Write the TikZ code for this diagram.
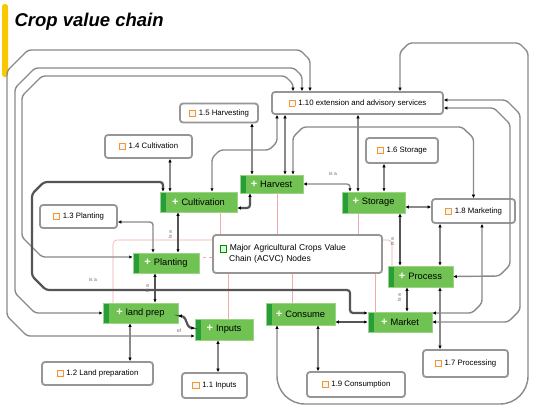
\documentclass[tikz,border=0pt]{standalone}
\usepackage{fontspec}
\setmainfont{Liberation Sans}
\usetikzlibrary{arrows.meta}
\definecolor{nodegreen}{RGB}{112,194,82}
\definecolor{stripgreen}{RGB}{40,158,58}
\definecolor{boxgray}{RGB}{150,150,150}
\definecolor{linkgray}{RGB}{138,138,138}
\definecolor{linkdark}{RGB}{85,85,85}
\definecolor{pinkline}{RGB}{242,170,170}
\definecolor{titlebar}{RGB}{250,200,0}
\setlength{\fboxsep}{0.8pt}
\setlength{\fboxrule}{0.6pt}
\newcommand{\noteicon}{\fcolorbox{orange!85}{cyan!8}{\rule{0pt}{4pt}\rule{4pt}{0pt}}\hspace{3pt}}
\newcommand{\groupicon}{\fcolorbox{green!55!black}{green!15}{\rule{0pt}{4pt}\rule{4pt}{0pt}}\hspace{3pt}}
\newcommand{\gplus}{{\color{white}\bfseries\fontsize{11}{11}\selectfont +}\hspace{3pt}}
\begin{document}
\begin{tikzpicture}[x=1pt, y=1pt,
  endtip/.tip={Latex[length=3.5pt,width=3.5pt,color=black]},
  gnode/.style={fill=nodegreen, draw=nodegreen!70!white, line width=0.5pt, minimum height=20, inner sep=1pt,
    font=\fontsize{9.3}{11}\selectfont,
    path picture={\fill[stripgreen] (path picture bounding box.north west) rectangle ([xshift=6]path picture bounding box.south west);}},
  infobox/.style={draw=boxgray, line width=1.8pt, rounded corners=3pt, fill=white, inner sep=2pt,
    font=\fontsize{7.8}{9.5}\selectfont},
  link/.style={draw=linkgray, line width=1.4pt, rounded corners=3pt, arrows={endtip-endtip}},
  strong/.style={link, draw=linkdark, line width=2.2pt},
  parent/.style={draw=pinkline, line width=0.6pt, rounded corners=4pt},
  rel/.style={font=\fontsize{5}{6}\selectfont, text=gray!80!black, inner sep=0.5pt}]
\fill[white] (0,0) rectangle (535,-408);
\useasboundingbox (0,0) rectangle (535,-408);
\fill[titlebar, rounded corners=2.5] (2,-4) rectangle (8,-77);
\node[anchor=west, font=\fontsize{18.5}{22}\selectfont\bfseries\itshape] (title) at (11,-22) {Crop value chain};

\node[infobox, minimum width=171, minimum height=22] (ext) at (357.5,-103) {\noteicon 1.10 extension and advisory services};
\node[infobox, minimum width=78, minimum height=19] (harvesting) at (219,-113) {\noteicon 1.5 Harvesting};
\node[infobox, minimum width=87, minimum height=23] (cultivbox) at (148.5,-146.5) {\noteicon 1.4 Cultivation};
\node[infobox, minimum width=72, minimum height=25] (storagebox) at (402,-150.5) {\noteicon 1.6 Storage};
\node[infobox, minimum width=77, minimum height=23] (plantingbox) at (78.5,-216.5) {\noteicon 1.3 Planting};
\node[infobox, minimum width=83, minimum height=24] (marketingbox) at (473.5,-211) {\noteicon 1.8 Marketing};
\node[infobox, minimum width=111, minimum height=23] (landprepbox) at (97.5,-373.5) {\noteicon 1.2 Land preparation};
\node[infobox, minimum width=65, minimum height=25] (inputsbox) at (214.5,-385.5) {\noteicon 1.1 Inputs};
\node[infobox, minimum width=98, minimum height=25] (consumptionbox) at (356,-384.5) {\noteicon 1.9 Consumption};
\node[infobox, minimum width=85, minimum height=27] (processingbox) at (465.5,-363.5) {\noteicon 1.7 Processing};
\node[infobox, minimum width=169, minimum height=38, text width=155, align=left, font=\fontsize{8.5}{11}\selectfont] (acvc) at (297.5,-254) {\groupicon Major Agricultural Crops Value\\\hspace*{9.2pt}Chain (ACVC) Nodes};

\node[gnode, minimum width=77] (cultivation) at (198.5,-202) {\gplus Cultivation};
\node[gnode, minimum width=63, minimum height=18] (harvest) at (271.5,-184) {\gplus Harvest};
\node[gnode, minimum width=63, minimum height=21] (storage) at (373.5,-202.5) {\gplus Storage};
\node[gnode, minimum width=66] (planting) at (166,-263) {\gplus Planting};
\node[gnode, minimum width=65, minimum height=21] (process) at (420.5,-276.5) {\gplus Process};
\node[gnode, minimum width=75] (landprep) at (140.5,-313) {\gplus land prep};
\node[gnode, minimum width=58, minimum height=21] (inputs) at (224,-329.5) {\gplus Inputs};
\node[gnode, minimum width=69, minimum height=22] (consume) at (300.5,-314) {\gplus Consume};
\node[gnode, minimum width=64] (market) at (400,-322) {\gplus Market};

\draw[parent] ([xshift=-77.5]acvc.north) -- ([xshift=21.5]cultivation.south);
\draw[parent] ([xshift=-20.5]acvc.north) -- ([xshift=5.5]harvest.south);
\draw[parent] ([xshift=60.5]acvc.north) -- ([xshift=-15.5]storage.south);
\draw[parent, dashed] ([yshift=-3]acvc.west) -- ([yshift=6]planting.east);
\draw[parent] ([yshift=14]acvc.west) -- (113,-240) -- ([xshift=-27.5]landprep.north);
\draw[parent] ([xshift=-69.5]acvc.south) -- ([xshift=4]inputs.north);
\draw[parent] ([xshift=-5.5]acvc.south) -- ([xshift=-8.5]consume.north);
\draw[parent] ([xshift=77.5]acvc.south) -- ([xshift=-25]market.north);
\draw[parent] ([yshift=14]acvc.east) -- (392,-240) -- ([xshift=-28.5]process.north);

\draw[link] ([xshift=-47.5]ext.north) -- (310,-60) -- (300,-50) -- (28,-50) -- (7,-71) -- (7,-316) -- (27,-336) -- ([yshift=-6.5]inputs.west);
\draw[link] ([xshift=-55.5]ext.north) -- (302,-76) -- (294,-68) -- (35,-68) -- (15,-88) -- (15,-293) -- (35,-313) -- (landprep.west);
\draw[link] ([xshift=-64.5]ext.north) -- (293,-84) -- (285,-76) -- (42,-76) -- (22,-96) -- (22,-237) -- (42,-257) -- ([yshift=6]planting.west);
\draw[strong] ([xshift=-35.5]cultivation.north) -- (163,-182) -- (44,-182) -- (32,-194) -- (32,-276) -- (46,-290) -- (350,-290) -- (350,-313) -- ([yshift=9]market.west);
\draw[link] ([xshift=42.5]ext.north) -- (400,-52) -- (409,-43) -- (519,-43) -- (528,-52) -- (528,-370) [rounded corners=28] -- (528,-404) -- (277,-404) [rounded corners=3] -- ([xshift=-23.5]consume.south);
\draw[link] ([yshift=3]ext.east) -- (506,-100) -- (520,-114) -- (520,-310) -- (508,-322) -- (market.east);
\draw[link] ([yshift=-5]ext.east) -- (494,-108) -- (510,-124) -- (510,-265) -- (499,-276) -- (process.east);
\draw[link] ([xshift=21.5]harvest.north) -- (293,-137) -- (303,-127) -- (462,-127) -- (473.5,-138) -- (marketingbox.north);
\draw[link] ([xshift=-72.5]ext.south) -- ([xshift=13.5]harvest.north);
\draw[link] ([xshift=-80.5]ext.south) -- (277,-142) -- (269,-150) -- (220,-150) -- (212,-158) -- ([xshift=13.5]cultivation.north);
\draw[link] ([xshift=0.5]ext.south) -- ([xshift=-15.5]storage.north);
\draw[link] ([xshift=33]harvesting.south) -- ([xshift=-19.5]harvest.north);
\draw[link] ([xshift=21.5]cultivbox.south) -- ([xshift=-28.5]cultivation.north);
\draw[strong] ([yshift=-6]cultivation.east) -- (250,-208) -- ([xshift=-21.5]harvest.south);
\draw[link] (harvest.east) -- (350,-184) -- ([xshift=-23.5]storage.north);
\draw[link] ([xshift=-18]storagebox.south) -- ([xshift=10.5]storage.north);
\draw[link] ([yshift=-4.5]storage.east) -- ([yshift=4]marketingbox.west);
\draw[strong] ([xshift=26.5]storage.south) -- ([xshift=-20.5]process.north);
\draw[link] ([xshift=-33.5]marketingbox.south) -- ([xshift=19.5]process.north);
\draw[link] ([xshift=8.5]marketingbox.south) -- (482,-303) -- (472,-313) -- ([yshift=9]market.east);
\draw[strong] ([xshift=-13.5]process.south) -- ([xshift=7]market.north);
\draw[link] ([xshift=19.5]process.south) -- ([xshift=-25.5]processingbox.north);
\draw[strong] ([yshift=-8]consume.east) -- (market.west);
\draw[link] ([xshift=17.5]consume.south) -- ([xshift=-38]consumptionbox.north);
\draw[link] ([xshift=-6]inputs.south) -- ([xshift=3.5]inputsbox.north);
\draw[link] ([xshift=-10.5]landprep.south) -- ([xshift=32.5]landprepbox.north);
\draw[strong] ([yshift=-3]landprep.east) -- (184,-316) -- (189,-328) -- ([yshift=1.5]inputs.west);
\draw[link] ([yshift=-5.5]plantingbox.east) -- (153,-222) -- ([xshift=-13]planting.north);
\draw[strong] ([xshift=-20.5]cultivation.south) -- ([xshift=12]planting.north);
\draw[strong] ([xshift=-11]planting.south) -- ([xshift=14.5]landprep.north);

\node[rel] (isa1) at (333,-174) {is a};
\node[rel, rotate=90] (isa2) at (392,-242) {is a};
\node[rel, rotate=90] (isa3) at (399,-298) {is a};
\node[rel, rotate=90] (isa4) at (170,-235) {is a};
\node[rel, rotate=90] (isa5) at (147,-289) {is a};
\node[rel] (isa6) at (93,-280) {is a};
\node[rel] (of1) at (179,-331) {of};
\end{tikzpicture}
\end{document}
